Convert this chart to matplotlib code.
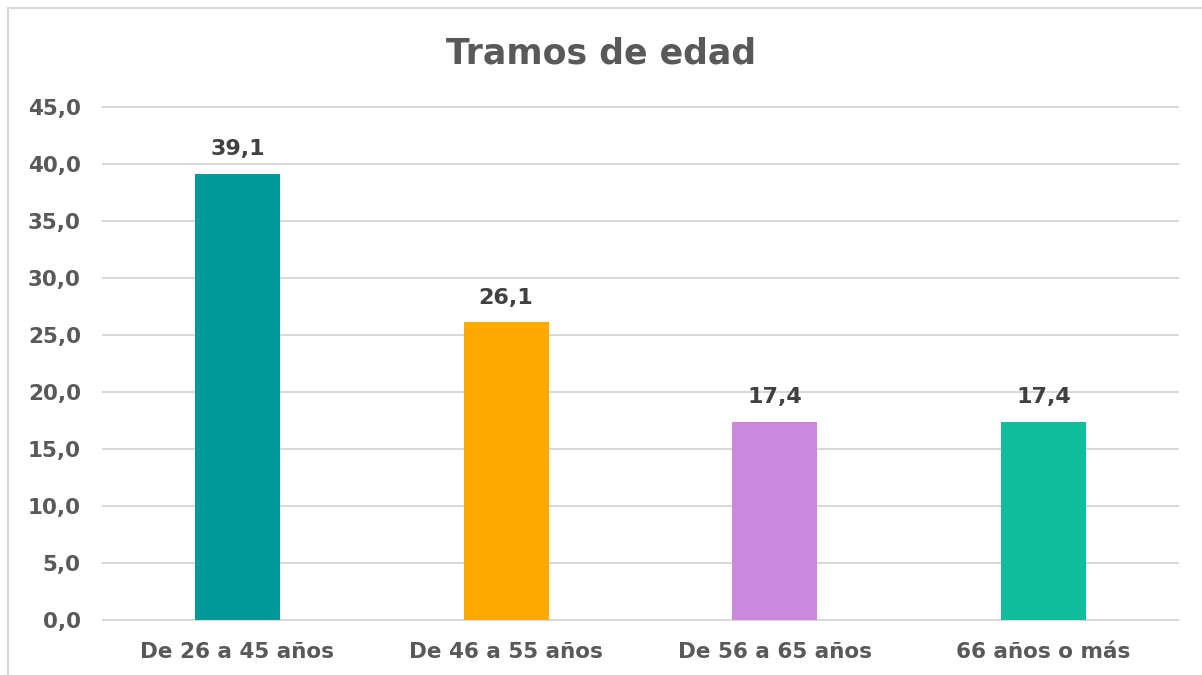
import matplotlib
matplotlib.use("Agg")
import matplotlib.pyplot as plt
from matplotlib.patches import Rectangle

# datos
categories = ["De 26 a 45 años", "De 46 a 55 años", "De 56 a 65 años", "66 años o más"]
values = [39.1, 26.1, 17.4, 17.4]
colors = ["#009999", "#FFAA00", "#CC88DD", "#10BE9E"]
yticks = [0, 5, 10, 15, 20, 25, 30, 35, 40, 45]

plt.rcParams['font.family'] = ['DejaVu Sans']

W, H = 1202, 675
fig = plt.figure(figsize=(W / 100, H / 100), dpi=100)
fig.patch.set_facecolor("white")

# marco exterior gris claro
fig.patches.append(Rectangle((8 / W, -0.1), 1.2, 1.1 - 8 / H,
                             transform=fig.transFigure, fill=False,
                             edgecolor="#D9D9D9", linewidth=1.5))

ax = fig.add_axes([103 / W, 1 - 620 / H, (1178 - 103) / W, (620 - 107) / H])
x = range(len(categories))

# líneas de cuadrícula (sin recortar en los extremos)
for t in yticks:
    ax.axhline(t, color="#D9D9D9", linewidth=1.5, zorder=0, clip_on=False)

bars = ax.bar(x, values, width=0.316, color=colors, zorder=3)

ax.set_xlim(-0.5, len(categories) - 0.5)
ax.set_ylim(0, 45)
ax.set_yticks(yticks)
ax.set_yticklabels([f"{v:.1f}".replace(".", ",") for v in yticks],
                   fontsize=15.5, fontweight="bold", color="#595959")
ax.set_xticks(list(x))
ax.set_xticklabels(categories, fontsize=15.5, fontweight="bold", color="#595959")
ax.tick_params(axis="both", length=0)
ax.tick_params(axis="y", pad=16)
ax.tick_params(axis="x", pad=16)

for s in ax.spines.values():
    s.set_visible(False)

for b, v in zip(bars, values):
    ax.text(b.get_x() + b.get_width() / 2, v + 1.3, f"{v:.1f}".replace(".", ","),
            ha="center", va="bottom", fontsize=16, fontweight="bold", color="#404040")

fig.text(0.5, 1 - 53 / H, "Tramos de edad", ha="center", va="center",
         fontsize=25, fontweight="bold", color="#595959")

fig.savefig("out.png", dpi=100)
